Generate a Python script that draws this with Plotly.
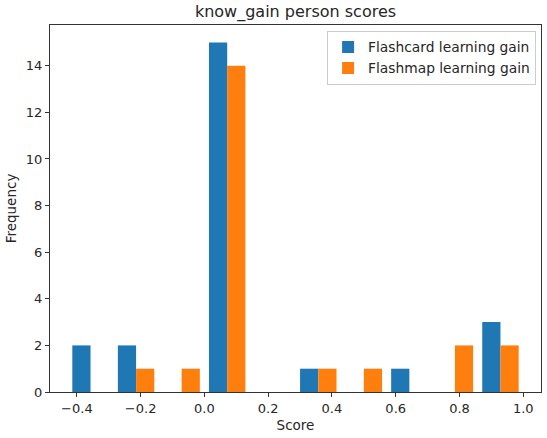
import plotly.graph_objects as go

# Histogram bin edges (10 bins) and counts per series
bin_edges = [-0.4286, -0.2857, -0.1429, 0.0, 0.1429, 0.2857, 0.4286, 0.5714, 0.7143, 0.8571, 1.0]
flashcard_counts = [2, 2, 0, 15, 0, 1, 0, 1, 0, 3]
flashmap_counts = [0, 1, 1, 14, 0, 1, 1, 0, 2, 2]
series_names = ["Flashcard learning gain", "Flashmap learning gain"]
x_ticks = [-0.4, -0.2, 0.0, 0.2, 0.4, 0.6, 0.8, 1.0]
y_ticks = [0, 2, 4, 6, 8, 10, 12, 14]

centers = [(a + b) / 2 for a, b in zip(bin_edges[:-1], bin_edges[1:])]

fig = go.Figure()
fig.add_trace(go.Bar(x=centers, y=flashcard_counts, name=series_names[0],
                     marker=dict(color="#1f77b4", line=dict(width=0))))
fig.add_trace(go.Bar(x=centers, y=flashmap_counts, name=series_names[1],
                     marker=dict(color="#ff7f0e", line=dict(width=0))))

font_family = "DejaVu Sans"
fig.update_layout(
    width=547, height=438,
    margin=dict(l=50, r=6, t=25, b=46),
    paper_bgcolor="white", plot_bgcolor="white",
    barmode="group", bargap=0.2, bargroupgap=0,
    font=dict(family=font_family, size=13, color="#262626"),
    title=dict(text="know_gain person scores", x=295.5 / 547, xanchor="center",
               y=1 - 11 / 438, yanchor="middle", font=dict(size=16, color="#262626")),
    legend=dict(x=0.99, y=0.985, xanchor="right", yanchor="top",
                bgcolor="rgba(255,255,255,0.8)", bordercolor="#cccccc", borderwidth=1,
                font=dict(size=13.8, color="#262626"), itemwidth=30, tracegroupgap=2),
    showlegend=True,
)
fig.update_xaxes(range=[-0.4843, 1.0557], tickvals=x_ticks, tickformat=".1f",
                 showgrid=False, zeroline=False, showline=True, linecolor="#333333",
                 linewidth=1, mirror=True, ticks="outside", ticklen=4, tickcolor="#333333",
                 tickfont=dict(size=13), title=dict(text="Score", font=dict(size=13.5), standoff=5))
fig.update_yaxes(range=[0, 15.75], tickvals=y_ticks,
                 showgrid=False, zeroline=False, showline=True, linecolor="#333333",
                 linewidth=1, mirror=True, ticks="outside", ticklen=4, tickcolor="#333333",
                 tickfont=dict(size=13), title=dict(text="Frequency", font=dict(size=13.5), standoff=6))

fig.write_html("out.html")
